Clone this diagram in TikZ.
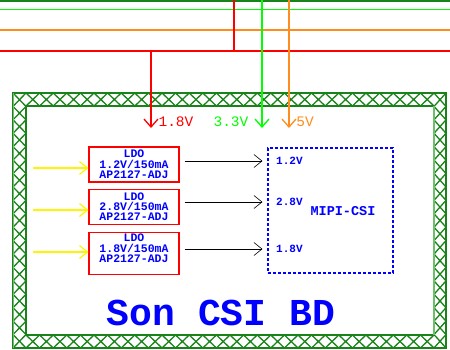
\documentclass[tikz,border=0pt]{standalone}
\usepackage{fontspec}
\setmonofont{Liberation Mono}
\usepackage{tikz}
\usetikzlibrary{positioning,arrows.meta}
\definecolor{railr}{RGB}{255,0,0}
\definecolor{railg}{RGB}{0,255,0}
\definecolor{railo}{RGB}{255,140,30}
\definecolor{hatchc}{RGB}{25,130,25}
\definecolor{framel}{RGB}{110,190,110}
\definecolor{txtb}{RGB}{0,0,255}
\definecolor{feedc}{RGB}{255,245,0}
\tikzset{
  rail/.style={line width=1.3pt},
  drop/.style={rail,-{Straight Barb[length=8pt,width=14pt]}},
  ldo/.style={rectangle,draw=railr,line width=1.1pt,minimum width=90pt,minimum height=35pt,inner sep=0pt,align=center,text=txtb,font=\ttfamily\bfseries\fontsize{11.5}{10.3}\selectfont},
  mipi/.style={rectangle,draw=txtb,dash pattern=on 3pt off 2pt,line width=1.1pt,minimum width=125pt,minimum height=125pt},
  pinlbl/.style={text=txtb,font=\ttfamily\bfseries\fontsize{11}{13}\selectfont,inner sep=0pt},
  raillbl/.style={font=\ttfamily\fontsize{14.5}{16}\selectfont,inner sep=0pt},
  feed/.style={feedc,line width=1.2pt,-{Straight Barb[length=8pt,width=13pt]}},
  link/.style={black,line width=0.6pt,-{Straight Barb[length=8pt,width=13pt]}},
  hatch/.style={hatchc,line width=1.3pt},
}
\begin{document}
\begin{tikzpicture}[x=1pt,y=-1pt]
  \useasboundingbox (0,0) rectangle (450,350);
  % board above, cut by the page
  \begin{scope}
    \clip (0,0) rectangle (450,2);
    \foreach \i in {0,...,33} {
      \draw[hatch] (\i*13.6,-12) -- ++(13.6,13) (\i*13.6+13.6,-12) -- ++(-13.6,13);
    }
    \draw[hatch] (0,1) -- (450,1);
  \end{scope}
  % supply rails
  \coordinate (g0) at (0,9.5);  \coordinate (g1) at (450,9.5);
  \coordinate (o0) at (0,30);   \coordinate (o1) at (450,30);
  \coordinate (r0) at (0,51);   \coordinate (r1) at (450,51);
  \draw[rail,railg] (g0) -- (g1);
  \draw[rail,railo] (o0) -- (o1);
  \draw[rail,railr] (r0) -- (r1);
  \coordinate (rtap) at (234,0);
  \draw[rail,railr] (rtap) -- (rtap |- r0);
  % son board frame
  \begin{scope}
    \draw[hatch] (13,93) rectangle (446,348);
    \draw[hatch] (26,106) rectangle (434,335);
    \foreach \i in {0,...,29} {
      \draw[hatch] (26+\i*13.6,93) -- ++(13.6,13) (26+\i*13.6+13.6,93) -- ++(-13.6,13);
      \draw[hatch] (26+\i*13.6,335) -- ++(13.6,13) (26+\i*13.6+13.6,335) -- ++(-13.6,13);
    }
    \foreach \i in {0,...,18} {
      \draw[hatch] (13,93+\i*13.42) -- ++(13,13.42) (26,93+\i*13.42) -- ++(-13,13.42);
      \draw[hatch] (434,93+\i*13.42) -- ++(12,13.42) (446,93+\i*13.42) -- ++(-12,13.42);
    }
    \draw[framel,line width=1.3pt] (13.5,93) -- (13.5,348);
    \draw[framel,line width=1.3pt] (434,106) -- (434,335);
  \end{scope}
  % rail drops
  \node[raillbl,text=railr] (v18) at (176,122) {1.8V};
  \node[raillbl,text=railg] (v33) at (231,122) {3.3V};
  \node[raillbl,text=railo] (v5) at (305,122) {5V};
  \coordinate (d18) at (151,51);
  \coordinate (d33) at (262,0);
  \coordinate (d5) at (289,0);
  \draw[drop,railr] (d18) -- (d18 |- 0,128);
  \draw[drop,railg] (d33) -- (d33 |- 0,128);
  \draw[drop,railo] (d5) -- (d5 |- 0,128);
  % regulators
  \node[ldo] (l1) at (134,164.5) {LDO\\1.2V/150mA\\AP2127-ADJ};
  \node[ldo,below=6pt of l1] (l2) {LDO\\2.8V/150mA\\AP2127-ADJ};
  \node[ldo,below=7pt of l2,minimum height=42pt,text depth=10pt] (l3) {LDO\\1.8V/150mA\\AP2127-ADJ};
  \coordinate (y1) at (33,168);
  \coordinate (y2) at (33,210);
  \coordinate (y3) at (33,252);
  \draw[feed] (y1) -- (y1 -| l1.west);
  \draw[feed] (y2) -- (y2 -| l2.west);
  \draw[feed] (y3) -- (y3 -| l3.west);
  % camera connector
  \node[mipi] (csi) at (330.5,210.5) {};
  \node[pinlbl,anchor=west] (p12) at (276,161) {1.2V};
  \node[pinlbl,anchor=west] (p28) at (276,202) {2.8V};
  \node[pinlbl,anchor=west] (p18) at (276,249) {1.8V};
  \node[pinlbl,font=\ttfamily\bfseries\fontsize{13.5}{15}\selectfont] (mlbl) at (343,211) {MIPI-CSI};
  \draw[link,shorten <=5pt,shorten >=5pt] (l1.east |- p12) -- (p12 -| csi.west);
  \draw[link,shorten <=5pt,shorten >=5pt] (l2.east |- p28) -- (p28 -| csi.west);
  \draw[link,shorten <=5pt,shorten >=5pt] (l3.east |- p18) -- (p18 -| csi.west);
  \node[text=txtb,font=\ttfamily\bfseries\fontsize{38}{40}\selectfont] (title) at (221,313) {Son CSI BD};
\end{tikzpicture}
\end{document}
